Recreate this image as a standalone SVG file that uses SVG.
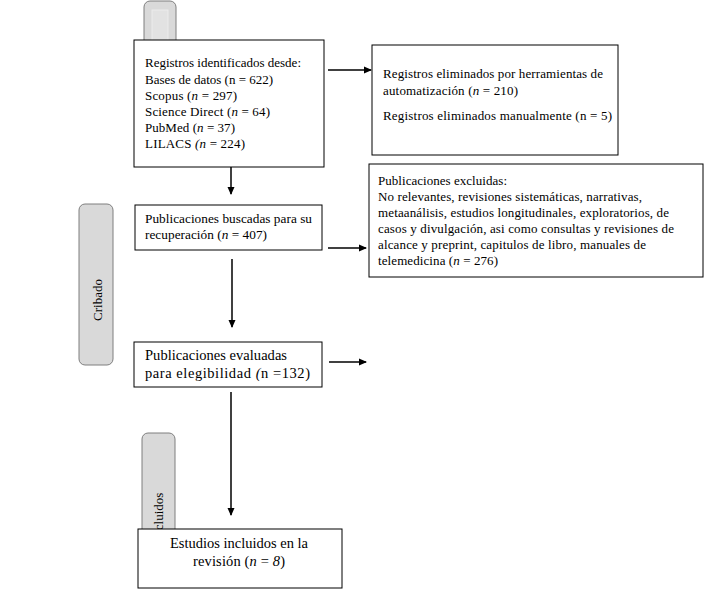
<svg xmlns="http://www.w3.org/2000/svg" width="711" height="590" viewBox="0 0 711 590">
<defs>
<marker id="ah" markerWidth="8" markerHeight="8" refX="7" refY="4" orient="auto" markerUnits="userSpaceOnUse">
<path d="M0,0.5 L8,4 L0,7.5 Z" fill="#000"/>
</marker>
<style>
.box{fill:#fff;stroke:#000;stroke-width:1}
.tab{fill:#d9d9d9;stroke:#7f7f7f;stroke-width:1}
.t{font-family:"Liberation Serif","Times New Roman",serif;font-size:13px;fill:#000}
.t13{font-family:"Liberation Serif","Times New Roman",serif;font-size:13.3px;fill:#000}
.t14{font-family:"Liberation Serif","Times New Roman",serif;font-size:14.5px;fill:#000}
.c{stroke:#000;stroke-width:1.5;fill:none;marker-end:url(#ah)}
</style>
</defs>
<rect width="711" height="590" fill="#fff"/>
<g id="tab-identificacion"><rect class="tab" x="144" y="1" width="32" height="60" rx="6"/>
<rect x="152" y="10" width="16" height="40" fill="#e2e2e2" stroke="#ececec" stroke-width="1"/></g>
<g id="tab-cribado"><rect class="tab" x="79" y="204" width="34" height="161" rx="6"/>
<text class="t" font-size="13.5" transform="translate(102,300) rotate(-90)" text-anchor="middle">Cribado</text></g>
<g id="tab-incluidos"><rect class="tab" x="142" y="433" width="33" height="120" rx="6"/>
<text class="t" font-size="15" transform="translate(163,541) rotate(-90)">Incluidos</text></g>
<g id="connectors">
<line class="c" x1="328" y1="70" x2="371" y2="70"/>
<line class="c" x1="231" y1="150" x2="231" y2="194"/>
<line class="c" x1="328" y1="248" x2="366" y2="248"/>
<line class="c" x1="232" y1="259" x2="232" y2="327"/>
<line class="c" x1="329" y1="362" x2="366" y2="362"/>
<line class="c" x1="231" y1="392" x2="231" y2="515"/>
</g>
<g id="n1"><rect class="box" x="134" y="40" width="190" height="127"/>
<text class="t" x="145" y="67" textLength="156">Registros identificados desde:</text>
<text class="t" x="145" y="84" textLength="128">Bases de datos (n = 622)</text>
<text class="t" x="145" y="100" textLength="92">Scopus (<tspan font-style="italic">n</tspan> = 297)</text>
<text class="t" x="145" y="116" textLength="125">Science Direct (<tspan font-style="italic">n</tspan> = 64)</text>
<text class="t" x="145" y="132" textLength="90">PubMed (<tspan font-style="italic">n</tspan> = 37)</text>
<text class="t" x="145" y="148" textLength="100">LILACS <tspan font-style="italic">(n</tspan> = 224)</text></g>
<g id="n2"><rect class="box" x="372" y="45" width="246" height="110"/>
<text class="t" x="383" y="78" textLength="220">Registros eliminados por herramientas de</text>
<text class="t" x="383" y="95" textLength="135">automatización (<tspan font-style="italic">n</tspan> = 210)</text>
<text class="t" x="383" y="120" textLength="229">Registros eliminados manualmente (n = 5)</text></g>
<g id="n3"><rect class="box" x="135" y="205" width="187" height="45"/>
<text class="t13" x="145" y="223" textLength="167">Publicaciones buscadas para su</text>
<text class="t13" x="145" y="239" textLength="122">recuperación (<tspan font-style="italic">n</tspan> = 407)</text></g>
<g id="n4"><rect class="box" x="369" y="164" width="334" height="113"/>
<text class="t" x="378" y="185" textLength="129">Publicaciones excluidas:</text>
<text class="t" x="378" y="201" textLength="264">No relevantes, revisiones sistemáticas, narrativas,</text>
<text class="t" x="378" y="217" textLength="291">metaanálisis, estudios longitudinales, exploratorios, de</text>
<text class="t" x="378" y="233" textLength="296">casos y divulgación, asi como consultas y revisiones de</text>
<text class="t" x="378" y="249" textLength="268">alcance y preprint, capitulos de libro, manuales de</text>
<text class="t" x="378" y="265" textLength="120">telemedicina (<tspan font-style="italic">n</tspan> = 276)</text></g>
<g id="n5"><rect class="box" x="134" y="342" width="188" height="45"/>
<text class="t14" x="145" y="360" textLength="142">Publicaciones evaluadas</text>
<text class="t14" x="145" y="378" textLength="165">para elegibilidad <tspan font-style="italic">(</tspan>n =132)</text></g>
<g id="n6"><rect class="box" x="138" y="529" width="204" height="59"/>
<text class="t14" x="239" y="548" text-anchor="middle" textLength="138">Estudios incluidos en la</text>
<text class="t14" x="239" y="566" text-anchor="middle" textLength="92">revisión (<tspan font-style="italic">n</tspan> = <tspan font-style="italic">8</tspan>)</text></g>
</svg>
